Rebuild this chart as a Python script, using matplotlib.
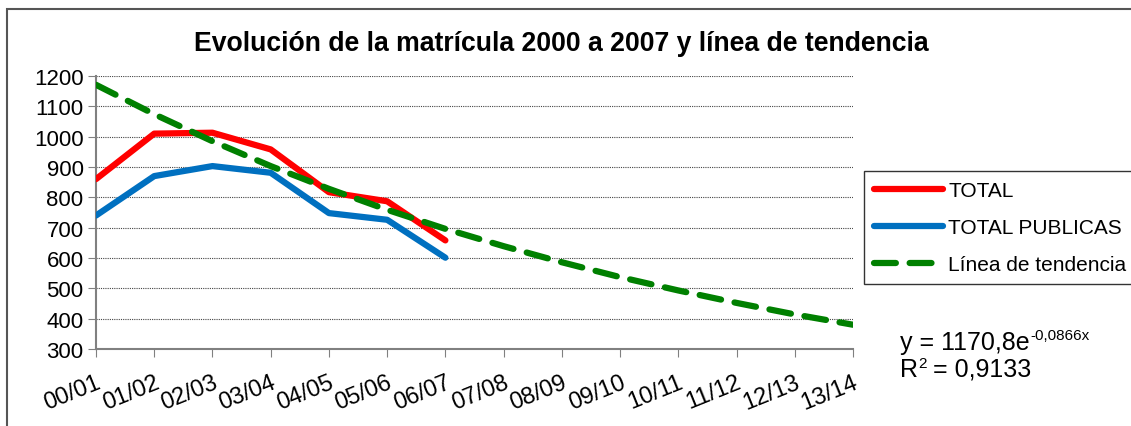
import matplotlib
matplotlib.use("Agg")
import matplotlib.pyplot as plt
from matplotlib.patches import Rectangle
import numpy as np

plt.rcParams['font.family'] = ['Liberation Sans', 'DejaVu Sans']

cursos = ["00/01", "01/02", "02/03", "03/04", "04/05", "05/06", "06/07",
          "07/08", "08/09", "09/10", "10/11", "11/12", "12/13", "13/14"]
total = [860, 1010, 1013, 958, 817, 787, 658]
total_publicas = [740, 870, 903, 881, 748, 726, 601]
tendencia = [1171, 1074, 985, 903, 828, 759, 696, 639, 586, 537, 493, 452, 414, 380]

fig = plt.figure(figsize=(11.31, 4.27), dpi=100)
W, H = 1131, 427
ax = fig.add_axes([96 / W, 1 - 350 / H, (853 - 96) / W, (350 - 77) / H])

# marco exterior del grafico
fig.patches.append(Rectangle((7 / W, -0.05), 1.1, 1 - 10 / H + 0.05,
                             transform=fig.transFigure, fill=False,
                             edgecolor="#555555", linewidth=1.5))

x = np.arange(len(cursos))
ax.plot(x[:len(total)], total, color="#ff0000", lw=4.5, solid_capstyle="round",
        solid_joinstyle="round", label="TOTAL", zorder=3)
ax.plot(x[:len(total_publicas)], total_publicas, color="#0070c0", lw=4.5,
        solid_capstyle="round", solid_joinstyle="round", label="TOTAL PUBLICAS", zorder=3)
ax.plot(x, tendencia, color="#008000", lw=4.5, dashes=(3.5, 2.2), dash_capstyle="round",
        label="Línea de tendencia", zorder=4)

ax.set_xlim(0, len(cursos) - 1)
ax.set_ylim(300, 1200)
ax.set_yticks(range(300, 1201, 100))
ax.yaxis.grid(True, linestyle=(0, (1, 1)), color="#444444", linewidth=0.8)
ax.set_axisbelow(True)

ax.set_xticks(x)
ax.set_xticklabels(cursos, rotation=22, ha="right", va="top", rotation_mode="anchor")
for lab in ax.get_xticklabels():
    lab.set_fontsize(17)
ax.tick_params(axis="y", labelsize=16, length=6, direction="out", color="#808080", pad=3)
ax.tick_params(axis="x", length=6, direction="out", color="#808080", pad=10)

for s in ["top", "right"]:
    ax.spines[s].set_visible(False)
for s in ["left", "bottom"]:
    ax.spines[s].set_color("#808080")
    ax.spines[s].set_linewidth(1.5)

fig.text(561 / W, 1 - 44 / H, "Evolución de la matrícula 2000 a 2007 y línea de tendencia",
         ha="center", va="center", fontsize=19.2, fontweight="bold")

leg = fig.legend(loc="upper left", bbox_to_anchor=(864 / W, 1 - 172 / H), fontsize=15,
                 frameon=True, fancybox=False, edgecolor="black", handlelength=3.3,
                 labelspacing=0.85, borderaxespad=0, borderpad=0.5, handletextpad=0.25)
leg.get_frame().set_linewidth(1.0)

# ecuacion de la linea de tendencia
renderer = fig.canvas.get_renderer()
t1 = fig.text(900 / W, 1 - 343 / H, "y = 1170,8e", ha="left", va="center", fontsize=18)
bb = t1.get_window_extent(renderer)
fig.text(bb.x1 / W + 1 / W, 1 - 336 / H, "-0,0866x", ha="left", va="center", fontsize=11)
t2 = fig.text(900 / W, 1 - 370 / H, "R", ha="left", va="center", fontsize=18)
bb2 = t2.get_window_extent(renderer)
fig.text(bb2.x1 / W, 1 - 364 / H, "2", ha="left", va="center", fontsize=11)
fig.text(bb2.x1 / W + 8 / W, 1 - 370 / H, " = 0,9133", ha="left", va="center", fontsize=18)

fig.savefig("out.png", dpi=100)
